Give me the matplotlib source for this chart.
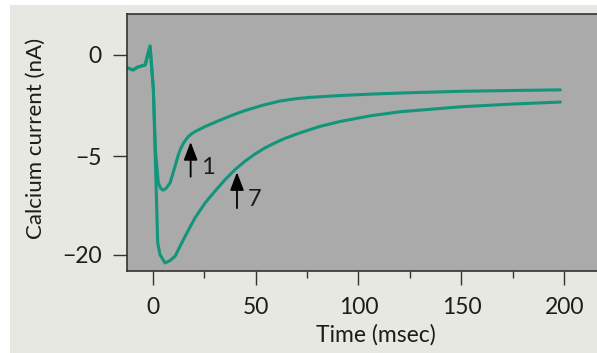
import numpy as np
import matplotlib
matplotlib.use("Agg")
from matplotlib import pyplot as plt
from matplotlib.patches import Rectangle

# data (time in msec, current in nA)
t_trace1 = [-12, -9.5, -7, -3.6, -1.2, 0.4, 1.4, 2.8, 4, 5.2, 6.5, 8.5, 10.9, 12.5,
            13.6, 15.0, 16.2, 17.4, 18.9, 20.6, 25.5, 31.9, 38.4, 44.9, 53.8, 61.9,
            70, 76.5, 91, 105.6, 125, 150, 175, 198]
i_trace1 = [-0.64, -0.74, -0.59, -0.49, 0.44, -1.7, -4.7, -9.06, -9.9, -10.15, -9.9,
            -9.06, -6.53, -4.93, -4.63, -4.35, -4.17, -4.02, -3.89, -3.78, -3.53, -3.25,
            -2.98, -2.74, -2.47, -2.27, -2.15, -2.09, -2.0, -1.93, -1.86, -1.79,
            -1.75, -1.72]

t_trace7 = [-12, -9.5, -7, -3.6, -1.2, 0.4, 1.5, 2.5, 3.6, 6.07, 8.5, 10.9, 15.8,
            20.6, 25.5, 30.3, 35.2, 40.0, 44.9, 49.8, 54.6, 59.5, 64.3, 71.6, 81.3,
            91, 105.6, 120.1, 150.2, 174.5, 198]
i_trace7 = [-0.64, -0.74, -0.59, -0.49, 0.44, -1.7, -7.0, -18.17, -20.0, -21.27, -20.9,
            -20.26, -17.21, -14.4, -12.11, -10.31, -8.56, -7.03, -5.73, -4.88, -4.58,
            -4.33, -4.11, -3.84, -3.52, -3.28, -3.0, -2.80, -2.55, -2.42, -2.32]

y_ticks = [0, -5, -20]
y_ticklabels = ["0", "\u22125", "\u221220"]
x_ticks = [0, 50, 100, 150, 200]
x_minor = [25, 75, 125, 175]

# y axis is compressed below -5
k = 0.3228


def fwd(y):
    y = np.asarray(y, dtype=float)
    return np.where(y >= -5, y, -5 + (y + 5) * k)


def inv(z):
    z = np.asarray(z, dtype=float)
    return np.where(z >= -5, z, -5 + (z + 5) / k)


plt.rcParams["font.family"] = ["Lato", "DejaVu Sans"]
text_color = "#1c1c1c"
line_color = "#13957b"
spine_color = "#333333"

fig = plt.figure(figsize=(5.97, 3.53), dpi=100)
fig.patch.set_facecolor("white")
fig.patches.append(Rectangle((10 / 597, 0), 1, 1 - 5 / 353, transform=fig.transFigure,
                             facecolor="#e8e8e2", edgecolor="none", zorder=-10))

ax = fig.add_axes([127 / 597, 1 - 271 / 353, 1 - 127 / 597, (271 - 14) / 353])
ax.set_zorder(1)
ax.set_facecolor("#aaaaaa")
ax.set_yscale("function", functions=(fwd, inv))

ax.plot(t_trace1, i_trace1, color=line_color, lw=2.2, solid_capstyle="round",
        solid_joinstyle="round")
ax.plot(t_trace7, i_trace7, color=line_color, lw=2.2, solid_capstyle="round",
        solid_joinstyle="round")

ax.set_xlim(-12.4, 215.8)
ax.set_ylim(-22.5, 2.02)

ax.set_yticks(y_ticks)
ax.set_yticklabels(y_ticklabels)
ax.set_xticks(x_ticks)
ax.set_xticks(x_minor, minor=True)
ax.yaxis.set_minor_locator(matplotlib.ticker.NullLocator())

ax.tick_params(axis="both", which="major", length=10, width=1, color=spine_color,
               labelsize=16.5, labelcolor=text_color)
ax.tick_params(axis="x", which="major", pad=8.5)
ax.tick_params(axis="y", which="major", pad=8)
ax.tick_params(axis="x", which="minor", length=5, width=1, color=spine_color)

for side in ["top", "left", "bottom"]:
    ax.spines[side].set_color(spine_color)
    ax.spines[side].set_linewidth(1.2)
ax.spines["right"].set_visible(False)

ax.set_xlabel("Time (msec)", fontsize=16.5, color=text_color)
ax.set_ylabel("Calcium current (nA)", fontsize=16, color=text_color)
ax.xaxis.set_label_coords(0.53, -0.205)
ax.yaxis.set_label_coords(-0.172, 0.517)

# arrows marking trace 1 and trace 7
arrow_style = dict(arrowstyle="-|>,head_length=1.1,head_width=0.42", color="black",
                   lw=1.3, shrinkA=0, shrinkB=0)
ax.annotate("", xy=(18.5, -4.29), xytext=(18.5, -8.1), arrowprops=arrow_style)
ax.text(26.8, -6.7, "1", fontsize=17, color=text_color, ha="center", va="center")
ax.annotate("", xy=(41, -7.41), xytext=(41, -12.9), arrowprops=arrow_style)
ax.text(49.5, -11.6, "7", fontsize=17, color=text_color, ha="center", va="center")

fig.savefig("out.png", dpi=100)
